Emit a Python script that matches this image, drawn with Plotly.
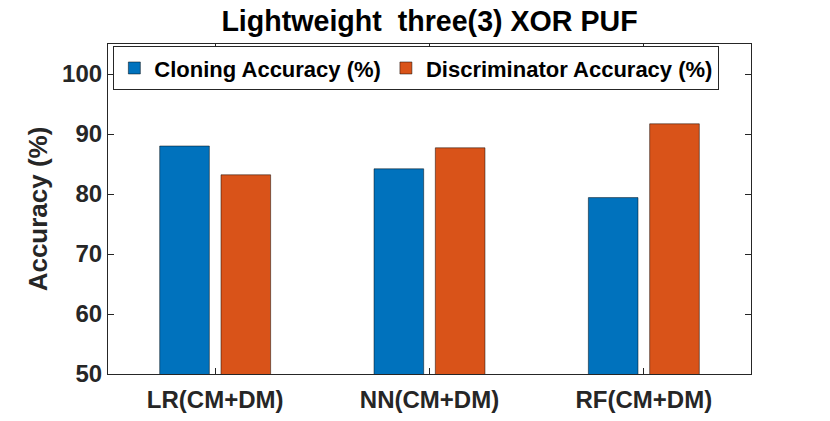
import plotly.graph_objects as go

categories = ["LR(CM+DM)", "NN(CM+DM)", "RF(CM+DM)"]
cloning_acc = [88.0, 84.2, 79.4]
discriminator_acc = [83.2, 87.7, 91.7]
series_names = ["Cloning Accuracy (%)", "Discriminator Accuracy (%)"]
y_ticks = [50, 60, 70, 80, 90, 100]

FONT = "Liberation Sans, Arial, Helvetica, sans-serif"
AX = "#262626"
edge = dict(color="rgba(0,0,0,0.6)", width=0.8)

W, H = 830, 421

fig = go.Figure()
fig.add_bar(x=categories, y=cloning_acc, name=series_names[0],
            marker=dict(color="#0072BD", line=edge))
fig.add_bar(x=categories, y=discriminator_acc, name=series_names[1],
            marker=dict(color="#D95319", line=edge))

fig.update_layout(
    width=W, height=H,
    margin=dict(l=108, r=79, t=44, b=47, autoexpand=False),
    barmode="group", bargap=0.428, bargroupgap=0.19,
    plot_bgcolor="white", paper_bgcolor="white",
    font=dict(family=FONT, color=AX),
    title=dict(text="Lightweight\u00a0 three(3) XOR PUF", x=0.5, xref="paper",
               xanchor="center", y=1 - 21 / H, yref="container", yanchor="middle",
               font=dict(size=28.6, weight="bold", color="black")),
    legend=dict(orientation="h", x=0.008, y=0.994, xanchor="left", yanchor="top",
                bordercolor=AX, borderwidth=1.2, bgcolor="white",
                font=dict(size=22, weight="bold", color="black"),
                itemwidth=30, traceorder="normal"),
    showlegend=True,
)
fig.update_xaxes(range=[-0.5, 2.5], showline=True, linecolor=AX, linewidth=1.2,
                 mirror="allticks", ticks="inside", ticklen=6, tickcolor=AX,
                 ticklabelstandoff=4, automargin=False,
                 tickfont=dict(size=24, weight="bold", color=AX), showgrid=False)
fig.update_yaxes(range=[50, 105], tickvals=y_ticks, showline=True, linecolor=AX,
                 linewidth=1.2, mirror="allticks", ticks="inside", ticklen=6,
                 tickcolor=AX, tickfont=dict(size=24, weight="bold", color=AX),
                 showgrid=False, zeroline=False, automargin=False,
                 title=dict(text="Accuracy (%)", standoff=6,
                            font=dict(size=26, weight="bold", color=AX)))

fig.write_html("out.html", config={"displayModeBar": False},
               post_script="document.body.style.margin='0';document.body.style.overflow='hidden';")
